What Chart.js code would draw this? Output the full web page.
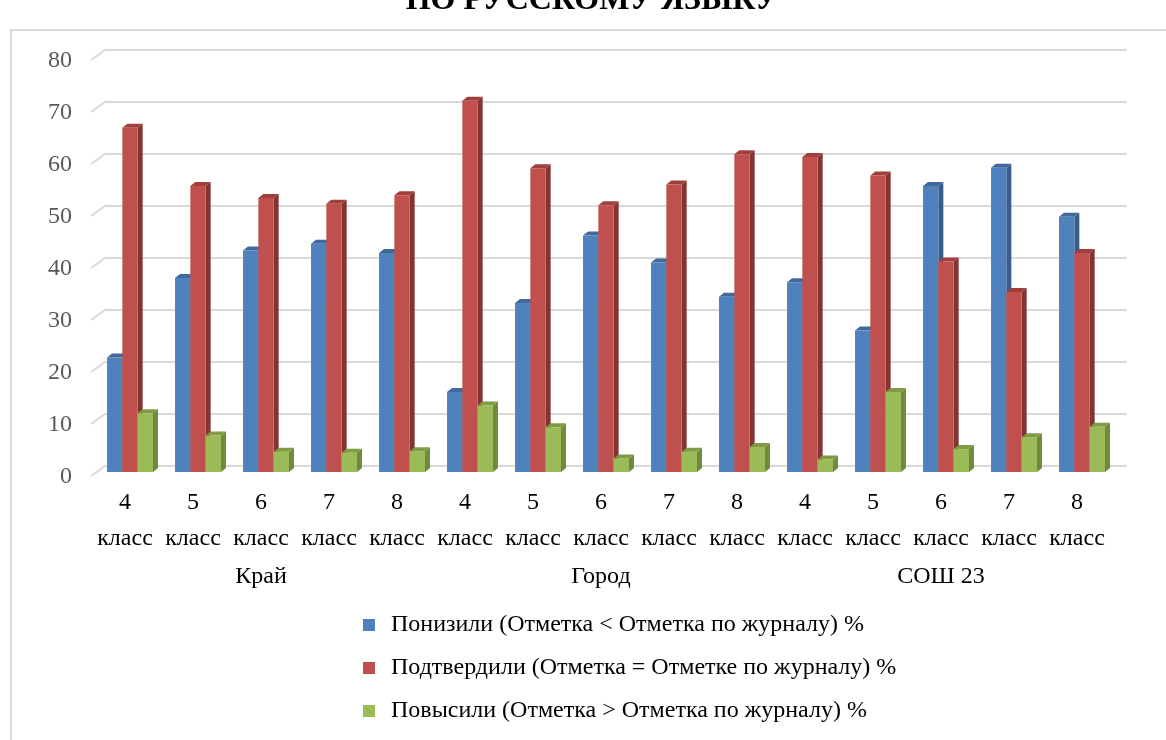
<!DOCTYPE html>
<html>
<head>
<meta charset="utf-8">
<script src="https://cdn.jsdelivr.net/npm/chart.js@4.4.1/dist/chart.umd.min.js"></script>
<style>
  html, body { margin: 0; padding: 0; background: #fff; }
  #wrap { width: 1166px; height: 740px; position: relative; }
</style>
</head>
<body>
<div id="wrap"><canvas id="myChart"></canvas></div>
<script>
const titleText = "ПО РУССКОМУ ЯЗЫКУ";
const classLabels = [
  ["4","класс"],["5","класс"],["6","класс"],["7","класс"],["8","класс"],
  ["4","класс"],["5","класс"],["6","класс"],["7","класс"],["8","класс"],
  ["4","класс"],["5","класс"],["6","класс"],["7","класс"],["8","класс"]
];
const groupNames = ["Край","Город","СОШ 23"];
const seriesNames = [
  "Понизили (Отметка < Отметка по журналу) %",
  "Подтвердили (Отметка = Отметке по журналу) %",
  "Повысили (Отметка > Отметка по журналу) %"
];
const lowered   = [22.0, 37.3, 42.6, 43.9, 42.1, 15.4, 32.5, 45.5, 40.3, 33.7, 36.5, 27.2, 55.0, 58.5, 49.1];
const confirmed = [66.2, 55.0, 52.7, 51.6, 53.2, 71.4, 58.4, 51.3, 55.3, 61.1, 60.6, 57.0, 40.5, 34.6, 42.1];
const raised    = [11.3,  7.0,  3.9,  3.7,  4.0, 12.8,  8.6,  2.6,  3.9,  4.8,  2.4, 15.4,  4.4,  6.7,  8.7];
const yTicks = [0,10,20,30,40,50,60,70,80];

const barColors  = ['#4F81BD', '#C0504D', '#9BBB59'];
const sideColors = ['#385D8A', '#843432', '#6E8B3D'];
const topColors  = ['#41699B', '#A03F3C', '#7F9C45'];

const FONT = "'Liberation Serif', 'Times New Roman', serif";
Chart.defaults.font.family = FONT;

const DX = 5, DY = 4;

// back wall grid + 3D columns
const threeD = {
  id: 'threeD',
  beforeDatasetsDraw(chart) {
    const ctx = chart.ctx;
    const ys = chart.scales.y;
    const area = chart.chartArea;
    ctx.save();
    ctx.strokeStyle = '#D9D9D9';
    ctx.lineWidth = 2;
    ys.ticks.forEach(t => {
      const py = ys.getPixelForValue(t.value);
      ctx.beginPath();
      ctx.moveTo(area.left - 5, py + 4);
      ctx.lineTo(area.left + 9, py - 6);
      ctx.lineTo(area.right + 11, py - 6);
      ctx.stroke();
    });
    const metas = chart.data.datasets.map((d, i) => chart.getDatasetMeta(i));
    const n = chart.data.labels.length;
    for (let j = 0; j < n; j++) {
      metas.forEach((meta, i) => {
        const bar = meta.data[j];
        const p = bar.getProps(['x', 'y', 'base', 'width'], true);
        const xl = p.x - p.width / 2, xr = p.x + p.width / 2;
        // side
        ctx.fillStyle = sideColors[i];
        ctx.beginPath();
        ctx.moveTo(xr, p.y);
        ctx.lineTo(xr + DX, p.y - DY);
        ctx.lineTo(xr + DX, p.base - DY);
        ctx.lineTo(xr, p.base);
        ctx.closePath();
        ctx.fill();
        // top
        ctx.fillStyle = topColors[i];
        ctx.beginPath();
        ctx.moveTo(xl, p.y);
        ctx.lineTo(xl + DX, p.y - DY);
        ctx.lineTo(xr + DX, p.y - DY);
        ctx.lineTo(xr, p.y);
        ctx.closePath();
        ctx.fill();
        bar.draw(ctx);
      });
    }
    ctx.restore();
    return false;
  },
  afterDraw(chart) {
    const ctx = chart.ctx;
    const xs = chart.scales.x;
    ctx.save();
    // frame
    ctx.strokeStyle = '#D9D9D9';
    ctx.lineWidth = 2;
    ctx.beginPath();
    ctx.moveTo(11, 760);
    ctx.lineTo(11, 30);
    ctx.lineTo(1180, 30);
    ctx.stroke();
    // title (cut off at top)
    ctx.fillStyle = '#000';
    ctx.font = "bold 32px " + FONT;
    ctx.textAlign = 'center';
    ctx.textBaseline = 'alphabetic';
    ctx.fillText(titleText, 592, 9);
    // group labels
    ctx.font = "24px " + FONT;
    ctx.textBaseline = 'middle';
    groupNames.forEach((g, k) => {
      const cx = xs.getPixelForValue(k * 5 + 2) - 5;
      ctx.fillText(g, cx, 577);
    });
    // legend
    ctx.textAlign = 'left';
    const rows = [625, 668, 711];
    chart.data.datasets.forEach((ds, i) => {
      ctx.fillStyle = ds.backgroundColor;
      ctx.fillRect(363, rows[i] - 6, 12, 12);
      ctx.fillStyle = '#000';
      ctx.fillText(ds.label, 391, rows[i]);
    });
    ctx.restore();
  }
};

new Chart("myChart", {
  type: "bar",
  data: {
    labels: classLabels,
    datasets: [
      { label: seriesNames[0], data: lowered, backgroundColor: barColors[0] },
      { label: seriesNames[1], data: confirmed, backgroundColor: barColors[1] },
      { label: seriesNames[2], data: raised, backgroundColor: barColors[2] }
    ]
  },
  options: {
    responsive: true,
    maintainAspectRatio: false,
    animation: false,
    devicePixelRatio: 1,
    layout: { padding: { top: 56, right: 50, left: 0, bottom: 0 } },
    datasets: { bar: { categoryPercentage: 0.676, barPercentage: 1, borderWidth: 0 } },
    plugins: {
      legend: { display: false },
      title: { display: false },
      tooltip: { enabled: false }
    },
    scales: {
      x: {
        grid: { display: false },
        border: { display: false },
        afterFit: s => { s.height = 268; },
        ticks: {
          autoSkip: false,
          maxRotation: 0,
          minRotation: 0,
          padding: 5,
          labelOffset: -5,
          color: '#000',
          font: { size: 24, lineHeight: 1.5 }
        }
      },
      y: {
        min: 0,
        max: 80,
        afterFit: s => { s.width = 96; },
        afterBuildTicks: s => { s.ticks = yTicks.map(v => ({ value: v })); },
        grid: { display: false },
        border: { display: false },
        ticks: {
          padding: 16,
          labelOffset: 5,
          color: '#595959',
          font: { size: 24 }
        }
      }
    }
  },
  plugins: [threeD]
});
</script>
</body>
</html>
